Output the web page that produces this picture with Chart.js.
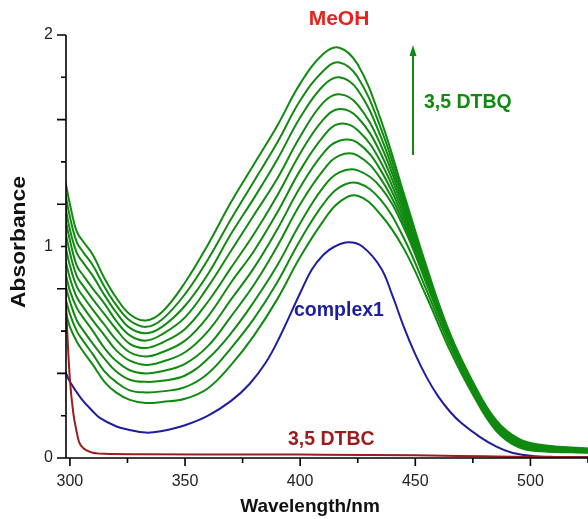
<!DOCTYPE html>
<html>
<head>
<meta charset="utf-8">
<script src="https://cdn.jsdelivr.net/npm/chart.js@4.4.1/dist/chart.umd.min.js"></script>
<style>
  html, body { margin: 0; padding: 0; background: #fff; }
  #wrap { width: 588px; height: 519px; }
</style>
</head>
<body>
<div id="wrap"><canvas id="chart" width="588" height="519"></canvas></div>
<script>
// Spectra (absorbance vs wavelength in nm)
const wavelengths = [298, 300, 303, 306, 310, 315, 320, 326, 333, 340, 350, 360, 370, 380,
  390, 400, 410, 417, 425, 435, 445, 455, 465, 475, 485, 495, 505, 525];

// 3,5-DTBQ growth, from the last scan (top) down to the first one
const dtbqScans = [
  [1.31, 1.20, 1.07, 1.02, 0.96, 0.85, 0.76, 0.68, 0.65, 0.69, 0.83, 1.01, 1.21, 1.39, 1.57, 1.77, 1.91, 1.94, 1.86, 1.60, 1.25, 0.90, 0.59, 0.36, 0.18, 0.09, 0.062, 0.045],
  [1.25, 1.14, 1.02, 0.97, 0.91, 0.81, 0.725, 0.65, 0.62, 0.655, 0.775, 0.94, 1.13, 1.31, 1.49, 1.69, 1.83, 1.87, 1.80, 1.56, 1.23, 0.89, 0.585, 0.355, 0.175, 0.086, 0.058, 0.043],
  [1.19, 1.08, 0.97, 0.92, 0.86, 0.77, 0.69, 0.615, 0.59, 0.62, 0.72, 0.87, 1.06, 1.23, 1.41, 1.61, 1.76, 1.80, 1.74, 1.52, 1.21, 0.88, 0.58, 0.35, 0.17, 0.082, 0.055, 0.041],
  [1.13, 1.03, 0.91, 0.86, 0.80, 0.73, 0.65, 0.58, 0.555, 0.585, 0.665, 0.81, 0.98, 1.15, 1.32, 1.52, 1.68, 1.72, 1.67, 1.48, 1.19, 0.87, 0.575, 0.345, 0.165, 0.078, 0.052, 0.039],
  [1.07, 0.97, 0.86, 0.81, 0.75, 0.68, 0.61, 0.54, 0.52, 0.545, 0.61, 0.74, 0.90, 1.06, 1.24, 1.44, 1.60, 1.65, 1.61, 1.44, 1.17, 0.86, 0.57, 0.34, 0.16, 0.074, 0.049, 0.037],
  [1.005, 0.91, 0.81, 0.76, 0.70, 0.63, 0.56, 0.50, 0.48, 0.50, 0.555, 0.67, 0.83, 0.98, 1.16, 1.36, 1.52, 1.58, 1.55, 1.40, 1.15, 0.85, 0.565, 0.335, 0.155, 0.07, 0.046, 0.035],
  [0.94, 0.85, 0.76, 0.71, 0.65, 0.58, 0.51, 0.46, 0.44, 0.455, 0.50, 0.60, 0.75, 0.90, 1.08, 1.28, 1.44, 1.50, 1.49, 1.36, 1.13, 0.84, 0.56, 0.33, 0.15, 0.066, 0.043, 0.033],
  [0.88, 0.79, 0.71, 0.66, 0.60, 0.52, 0.46, 0.415, 0.40, 0.41, 0.445, 0.53, 0.67, 0.82, 1.00, 1.20, 1.36, 1.43, 1.43, 1.32, 1.11, 0.83, 0.555, 0.325, 0.145, 0.062, 0.04, 0.031],
  [0.82, 0.74, 0.65, 0.60, 0.54, 0.47, 0.41, 0.37, 0.36, 0.365, 0.39, 0.47, 0.59, 0.74, 0.91, 1.11, 1.28, 1.35, 1.36, 1.28, 1.09, 0.82, 0.55, 0.32, 0.14, 0.058, 0.037, 0.029],
  [0.76, 0.68, 0.60, 0.55, 0.49, 0.41, 0.36, 0.32, 0.31, 0.315, 0.335, 0.40, 0.52, 0.66, 0.83, 1.03, 1.20, 1.28, 1.30, 1.22, 1.04, 0.79, 0.53, 0.31, 0.135, 0.054, 0.034, 0.027],
  [0.70, 0.62, 0.55, 0.50, 0.44, 0.36, 0.31, 0.275, 0.26, 0.265, 0.28, 0.33, 0.44, 0.58, 0.75, 0.95, 1.12, 1.21, 1.24, 1.15, 0.99, 0.76, 0.51, 0.30, 0.13, 0.05, 0.032, 0.025],
];

const complexWavelengths = [298, 300, 305, 310, 313, 320, 325, 333, 340, 350, 360, 370, 378,
  385, 391, 400, 405, 410, 415, 421, 427, 435, 440, 445, 450, 455, 460, 465, 470, 478, 485,
  492, 500, 510, 525];
const complexValues = [0.41, 0.36, 0.28, 0.22, 0.19, 0.15, 0.135, 0.12, 0.128, 0.155, 0.20,
  0.27, 0.35, 0.45, 0.57, 0.78, 0.89, 0.96, 1.00, 1.02, 1.00, 0.90, 0.77, 0.62, 0.49, 0.38,
  0.29, 0.22, 0.165, 0.1, 0.055, 0.025, 0.011, 0.005, 0.003];

const dtbcWavelengths = [298, 299, 300, 301.5, 303, 304, 306, 309, 315, 330, 360, 400, 450, 480, 500, 525];
const dtbcValues = [0.80, 0.56, 0.37, 0.21, 0.12, 0.075, 0.045, 0.028, 0.02, 0.018, 0.017, 0.016,
  0.013, 0.008, 0.005, 0.004];

const xTicks = [300, 325, 350, 375, 400, 425, 450, 475, 500, 525];
const xTickLabels = ["300", "", "350", "", "400", "", "450", "", "500", ""];
const yTicks = [0, 0.2, 0.4, 0.6, 0.8, 1, 1.2, 1.4, 1.6, 1.8, 2];
const yTickLabels = ["0", "", "", "", "", "1", "", "", "", "", "2"];

const GREEN = "#108a10";
const BLUE = "#1d1d9e";
const DARK_RED = "#9a1c1c";
const FONT = '"Liberation Sans", Arial, sans-serif';

function toPoints(xs, ys) {
  return xs.map((x, i) => ({ x, y: ys[i] }));
}

const datasets = [
  {
    label: "3,5 DTBC",
    data: toPoints(dtbcWavelengths, dtbcValues),
    borderColor: DARK_RED,
    borderWidth: 2,
    cubicInterpolationMode: "monotone",
    order: 0,
  },
  {
    label: "complex1",
    data: toPoints(complexWavelengths, complexValues),
    borderColor: BLUE,
    borderWidth: 2,
    tension: 0.4,
    order: 1,
  },
  ...dtbqScans.map((scan, i) => ({
    label: "scan " + (i + 1),
    data: toPoints(wavelengths, scan),
    borderColor: GREEN,
    borderWidth: 2,
    tension: 0.4,
    order: 2,
  })),
];

// axes, ticks and the labels of the original figure
const paperLayout = {
  id: "paperLayout",
  afterDraw(chart) {
    const { ctx, chartArea: area, scales } = chart;
    const x = scales.x;
    const y = scales.y;
    ctx.save();
    ctx.strokeStyle = "#000";
    ctx.lineWidth = 1.6;
    ctx.beginPath();
    ctx.moveTo(area.left, area.top);
    ctx.lineTo(area.left, area.bottom);
    ctx.moveTo(area.left - 9, area.bottom);
    ctx.lineTo(area.right, area.bottom);
    xTicks.forEach((v, i) => {
      const px = x.getPixelForValue(v);
      const len = i % 2 === 0 ? 8 : 5;
      ctx.moveTo(px, area.bottom);
      ctx.lineTo(px, area.bottom + len);
    });
    yTicks.forEach((v, i) => {
      const py = y.getPixelForValue(v);
      const len = i % 2 === 0 ? 9 : 5;
      ctx.moveTo(area.left, py);
      ctx.lineTo(area.left - len, py);
    });
    ctx.stroke();

    ctx.fillStyle = "#222";
    ctx.font = "16px " + FONT;
    ctx.textAlign = "center";
    ctx.textBaseline = "middle";
    xTicks.forEach((v, i) => {
      if (xTickLabels[i]) ctx.fillText(xTickLabels[i], x.getPixelForValue(v), 482);
    });
    ctx.textAlign = "right";
    yTicks.forEach((v, i) => {
      if (yTickLabels[i]) ctx.fillText(yTickLabels[i], 53, y.getPixelForValue(v));
    });

    ctx.fillStyle = "#111";
    ctx.font = "bold 19px " + FONT;
    ctx.textAlign = "center";
    ctx.fillText("Wavelength/nm", 310, 507);
    ctx.save();
    ctx.translate(20, 242);
    ctx.rotate(-Math.PI / 2);
    ctx.scale(1.2, 1.05);
    ctx.fillText("Absorbance", 0, 0);
    ctx.restore();

    ctx.font = "bold 21px " + FONT;
    ctx.fillStyle = "#e8221e";
    ctx.fillText("MeOH", 339, 19);

    ctx.font = "bold 19.5px " + FONT;
    ctx.fillStyle = GREEN;
    ctx.textAlign = "left";
    ctx.fillText("3,5 DTBQ", 424, 103);
    ctx.fillStyle = BLUE;
    ctx.fillText("complex1", 294, 311);
    ctx.fillStyle = DARK_RED;
    ctx.fillText("3,5 DTBC", 288, 440);

    // arrow showing the growth of the quinone band
    ctx.strokeStyle = GREEN;
    ctx.lineWidth = 2;
    ctx.beginPath();
    ctx.moveTo(413, 155);
    ctx.lineTo(413, 54);
    ctx.stroke();
    ctx.fillStyle = GREEN;
    ctx.beginPath();
    ctx.moveTo(413, 45);
    ctx.lineTo(409.5, 56);
    ctx.lineTo(416.5, 56);
    ctx.closePath();
    ctx.fill();
    ctx.restore();
  },
};

new Chart(document.getElementById("chart"), {
  type: "line",
  data: { datasets },
  options: {
    responsive: false,
    animation: false,
    events: [],
    layout: { padding: { top: 35, right: 0, left: 0, bottom: 0 } },
    elements: {
      point: { radius: 0 },
      line: { fill: false },
    },
    plugins: { legend: { display: false }, tooltip: { enabled: false } },
    scales: {
      x: {
        type: "linear",
        min: 298.3,
        max: 525,
        grid: { display: false },
        border: { display: false },
        ticks: { display: false },
        afterFit: (scale) => { scale.height = 61; },
      },
      y: {
        min: 0,
        max: 2,
        grid: { display: false },
        border: { display: false },
        ticks: { display: false },
        afterFit: (scale) => { scale.width = 66; },
      },
    },
  },
  plugins: [paperLayout],
});
</script>
</body>
</html>
